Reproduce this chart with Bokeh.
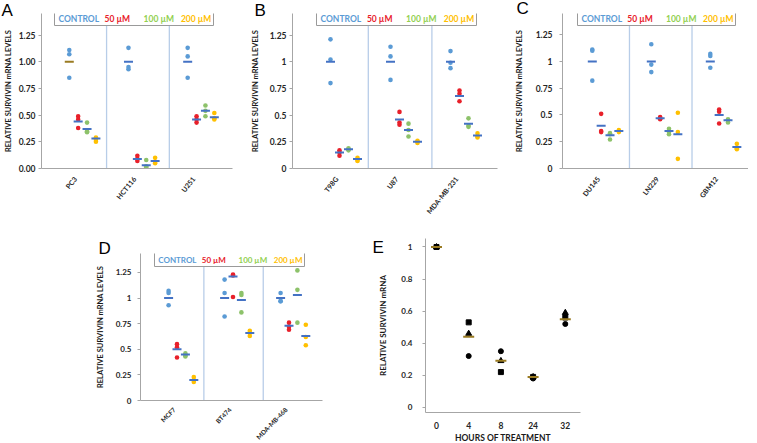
from bokeh.plotting import figure
from bokeh.layouts import row, column, Spacer
from bokeh.models import FixedTicker, NumeralTickFormatter
from bokeh.core.properties import value
from bokeh.embed import file_html
from bokeh.resources import INLINE

# ---------------- data ----------------
TREATMENTS = ["CONTROL", "50 µM", "100 µM", "200 µM"]

A_CELLS = ["PC3", "HCT116", "U251"]
A_CONTROL = [[1.11, 1.07, 0.85], [1.13, 0.95, 0.93], [1.13, 1.05, 0.85]]
A_50 = [[0.49, 0.46, 0.38], [0.12, 0.09, 0.07], [0.49, 0.46, 0.43]]
A_100 = [[0.43, 0.35, 0.34], [0.08, 0.02, 0.01], [0.59, 0.54, 0.49]]
A_200 = [[0.29, 0.27, 0.25], [0.10, 0.06, 0.05], [0.52, 0.47, 0.46]]
A_MEAN = [[1.00, 0.44, 0.37, 0.28], [1.00, 0.09, 0.03, 0.07], [1.00, 0.46, 0.54, 0.48]]

B_CELLS = ["T98G", "U87", "MDA-MB-231"]
B_CONTROL = [[1.21, 1.02, 0.80], [1.14, 1.05, 0.83], [1.10, 0.99, 0.94]]
B_50 = [[0.17, 0.15, 0.12], [0.53, 0.43, 0.41], [0.73, 0.70, 0.63]]
B_100 = [[0.19, 0.18, 0.17], [0.42, 0.36, 0.30], [0.47, 0.40, 0.39]]
B_200 = [[0.10, 0.08, 0.07], [0.26, 0.25, 0.24], [0.33, 0.30, 0.29]]
B_MEAN = [[1.00, 0.15, 0.18, 0.09], [1.00, 0.46, 0.36, 0.25], [1.00, 0.68, 0.42, 0.31]]

C_CELLS = ["DU145", "LN229", "GBM12"]
C_CONTROL = [[1.11, 1.10, 0.82], [1.16, 0.97, 0.90], [1.07, 1.05, 0.94]]
C_50 = [[0.51, 0.35, 0.34], [0.48, 0.47, 0.46], [0.55, 0.53, 0.42]]
C_100 = [[0.33, 0.32, 0.27], [0.37, 0.34, 0.32], [0.46, 0.45, 0.43]]
C_200 = [[0.36, 0.35, 0.34], [0.52, 0.34, 0.09], [0.23, 0.19, 0.18]]
C_MEAN = [[1.00, 0.40, 0.31, 0.35], [1.00, 0.47, 0.35, 0.32], [1.00, 0.50, 0.45, 0.20]]

D_CELLS = ["MCF7", "BT474", "MDA-MB-468"]
D_CONTROL = [[1.07, 1.05, 0.93], [1.18, 1.05, 0.82], [1.05, 0.97, 0.97]]
D_50 = [[0.55, 0.52, 0.42], [1.23, 1.22, 1.01], [0.76, 0.72, 0.69]]
D_100 = [[0.46, 0.44, 0.43], [1.05, 1.03, 0.86], [1.27, 1.08, 0.76]]
D_200 = [[0.23, 0.20, 0.18], [0.68, 0.66, 0.63], [0.74, 0.62, 0.54]]
D_MEAN = [[1.00, 0.50, 0.45, 0.20], [1.00, 1.21, 0.98, 0.66], [1.00, 0.73, 1.03, 0.63]]

E_HOURS = ["0", "4", "8", "24", "32"]
E_CIRCLE = [1.00, 0.32, 0.35, 0.18, 0.52]
E_SQUARE = [1.00, 0.53, 0.22, 0.19, 0.56]
E_TRIANGLE = [1.00, 0.46, 0.29, 0.19, 0.59]
E_MEAN = [1.00, 0.44, 0.29, 0.19, 0.55]

Y_TICKS = [0, 0.25, 0.5, 0.75, 1.0, 1.25]
E_Y_TICKS = [0, 0.2, 0.4, 0.6, 0.8, 1.0]

# ---------------- styles ----------------
DOT_COLORS = ["#5B9BD5", "#E8202A", "#8DC26A", "#FFC000"]
LEGEND_COLORS = ["#5B9BD5", "#E8202A", "#92D050", "#FFC000"]
MEAN_BLUE = "#4472C4"
MEAN_GOLD = "#9A7B22"
AXIS_GREY = "#A6A6A6"
DIVIDER = "#B8CDE8"
FONT = "Lato"
OFFSETS = [-0.1, 0.05, 0.2, 0.35]
YTITLE = "RELATIVE SURVIVIN mRNA LEVELS"
LETTER_FS = 17
LETTER_DESC = 3.6

# geometry in page pixels: fig=(left, top, width, height), frame=(left, right, top, bottom)
# letter=(x, baseline y)
GEO = {
    "A": dict(fig=(8, 0, 242, 223), frame=(44, 235, 13, 168), tick0=77.7, step=59.2,
              legend=(57, 216, 12, 25), letter=(4, 16), ytop=1.452, fmt="0.00",
              lab_so=3, title_so=3, tick_fs=8.5, leg_fs=8.5, cat_fs=7, cat_so=3, angle=0.89),
    "B": dict(fig=(250, 0, 250, 223), frame=(293, 498, 13, 168), tick0=337, step=60,
              legend=(317, 477, 12, 25), letter=(255, 16), ytop=1.452, fmt="0.[00]",
              lab_so=3, title_so=7, tick_fs=8.5, leg_fs=8.5, cat_fs=7, cat_so=3, angle=0.89),
    "C": dict(fig=(500, 0, 249, 223), frame=(563, 749, 13, 168), tick0=598.7, step=59,
              legend=(578, 736, 12, 25), letter=(517, 14), ytop=1.447, fmt="0.[00]",
              lab_so=7, title_so=9, tick_fs=8.5, leg_fs=8.5, cat_fs=7, cat_so=3, angle=0.89),
    "D": dict(fig=(100, 223, 240, 218), frame=(148, 330, 253, 400), tick0=181.7, step=56,
              legend=(162, 312, 252, 266), letter=(106, 254), ytop=1.435, fmt="0.[00]",
              lab_so=6, title_so=8, tick_fs=8, leg_fs=8, cat_fs=6.4, cat_so=2, angle=0.8),
}
E_FIG = (370, 223, 230, 218)
E_FRAME = (433, 588, 238, 412)
E_LETTER = (380, 253)


def make_fig(g_fig, g_frame, xr, yr):
    gx, gy, gw, gh = g_fig
    fl, fr, ft, fb = g_frame
    p = figure(frame_width=fr - fl, frame_height=fb - ft, x_range=xr, y_range=yr,
               output_backend="svg", toolbar_location=None,
               min_border_left=fl - gx, min_border_right=gx + gw - fr,
               min_border_top=ft - gy, min_border_bottom=gy + gh - fb)
    return p


def set_letter(p, letter, lx, lby, fl, ft):
    p.title.text = letter
    p.title.align = "left"
    p.title.vertical_align = "bottom"
    p.title.offset = lx - fl
    p.title.standoff = -2 * (lby + LETTER_DESC - ft)
    p.title.text_font = "Liberation Sans"
    p.title.text_font_size = f"{LETTER_FS}px"
    p.title.text_font_style = "normal"
    p.title.text_color = "black"


def style_axes(p, tick_fs, lab_so):
    p.outline_line_color = None
    p.grid.visible = False
    p.axis.axis_line_color = AXIS_GREY
    p.axis.major_label_text_font = FONT
    p.axis.major_label_text_font_style = "bold"
    p.axis.major_label_text_color = "#262626"
    p.axis.minor_tick_line_color = None
    p.xaxis.major_tick_line_color = None
    p.yaxis.major_tick_line_color = AXIS_GREY
    p.yaxis.major_tick_out = 3
    p.yaxis.major_tick_in = 0
    p.yaxis.major_label_text_font_size = f"{tick_fs}px"
    p.yaxis.major_label_standoff = lab_so
    p.axis.axis_label_text_font = FONT
    p.axis.axis_label_text_font_style = "bold"
    p.axis.axis_label_text_color = "#1A1A1A"


def dot_panel(key, cells, groups, means, mean_override=None):
    g = GEO[key]
    fl, fr, ft, fb = g["frame"]
    t0, st = g["tick0"], g["step"]
    ytop = g["ytop"]
    yu = (fb - ft) / ytop

    def px2x(px):
        return (px - t0) / st

    def py2y(py):
        return (fb - py) / yu

    p = make_fig(g["fig"], g["frame"], (px2x(fl), px2x(fr)), (0, ytop))
    style_axes(p, g["tick_fs"], g["lab_so"])

    # dividers between cell lines
    n = len(cells)
    dx = [0.53 + 1.06 * i for i in range(n - 1)]
    p.segment(x0=dx, y0=[0] * len(dx), x1=dx, y1=[ytop] * len(dx),
              line_color=DIVIDER, line_width=1.3)

    # replicate dots
    xs, ys, cs = [], [], []
    for j, grp in enumerate(groups):
        for i, vals in enumerate(grp):
            for v in vals:
                xs.append(i + OFFSETS[j])
                ys.append(v)
                cs.append(DOT_COLORS[j])
    p.scatter(x=xs, y=ys, marker="circle", size=4.6, fill_color=cs, line_color=cs, line_width=0)

    # means
    mx, my, mc = [], [], []
    for i, row_m in enumerate(means):
        for j, v in enumerate(row_m):
            mx.append(i + OFFSETS[j])
            my.append(v)
            col = MEAN_BLUE
            if mean_override and (i, j) in mean_override:
                col = mean_override[(i, j)]
            mc.append(col)
    p.scatter(x=mx, y=my, marker="dash", size=9, line_color=mc, line_width=2)

    # legend box
    lx0, lx1, ly0, ly1 = g["legend"]
    p.quad(left=[px2x(lx0)], right=[px2x(lx1)], top=[py2y(ly0)], bottom=[py2y(ly1)],
           fill_color="white", line_color="#9A9A9A", line_width=1)
    w = lx1 - lx0
    rel = [0.025, 0.315, 0.56, 0.795]
    p.text(x=[px2x(lx0 + w * r) for r in rel], y=[py2y((ly0 + ly1) / 2)] * 4, text=TREATMENTS,
           text_color=LEGEND_COLORS, text_font=value(FONT), text_font_style="bold",
           text_font_size=value(f"{g['leg_fs']}px"), text_baseline="middle", text_align="left")

    # axes
    p.xaxis.ticker = FixedTicker(ticks=list(range(n)))
    p.xaxis.major_label_overrides = {i: c for i, c in enumerate(cells)}
    p.xaxis.major_label_orientation = g["angle"]
    p.xaxis.major_label_text_font_size = f"{g['cat_fs']}px"
    p.xaxis.major_label_standoff = g["cat_so"]
    p.yaxis.ticker = FixedTicker(ticks=Y_TICKS)
    p.yaxis.formatter = NumeralTickFormatter(format=g["fmt"])
    p.yaxis.axis_label = YTITLE
    p.yaxis.axis_label_text_font_size = "7.5px"
    p.yaxis.axis_label_standoff = g["title_so"]

    lx, lby = g["letter"]
    set_letter(p, key, lx, lby, fl, ft)
    return p


pa = dot_panel("A", A_CELLS, [A_CONTROL, A_50, A_100, A_200], A_MEAN, {(0, 0): MEAN_GOLD})
pb = dot_panel("B", B_CELLS, [B_CONTROL, B_50, B_100, B_200], B_MEAN)
pc = dot_panel("C", C_CELLS, [C_CONTROL, C_50, C_100, C_200], C_MEAN)
pd = dot_panel("D", D_CELLS, [D_CONTROL, D_50, D_100, D_200], D_MEAN)

# ---------------- panel E ----------------
fl, fr, ft, fb = E_FRAME
t0, st = 444, 32.2
pe = make_fig(E_FIG, E_FRAME, ((fl - t0) / st, (fr - t0) / st), (-0.032, 1.053))
style_axes(pe, 8, 10)
idx = list(range(len(E_HOURS)))
pe.scatter(x=idx, y=E_CIRCLE, marker="circle", size=5, color="black")
pe.scatter(x=idx, y=E_SQUARE, marker="square", size=5, color="black")
pe.scatter(x=idx, y=E_TRIANGLE, marker="triangle", size=6, color="black")
pe.scatter(x=idx, y=E_MEAN, marker="dash", size=11, line_color=MEAN_GOLD, line_width=2)
pe.xaxis.ticker = FixedTicker(ticks=idx)
pe.xaxis.major_label_overrides = {i: h for i, h in enumerate(E_HOURS)}
pe.xaxis.major_label_text_font_size = "8.5px"
pe.xaxis.major_label_standoff = 3
pe.yaxis.ticker = FixedTicker(ticks=E_Y_TICKS)
pe.yaxis.formatter = NumeralTickFormatter(format="0.[0]")
pe.yaxis.axis_label = "RELATIVE SURVIVIN mRNA"
pe.yaxis.axis_label_text_font_size = "8px"
pe.yaxis.axis_label_standoff = 10
pe.xaxis.axis_label = "HOURS OF TREATMENT"
pe.xaxis.axis_label_text_font_size = "8.5px"
pe.xaxis.axis_label_standoff = 1
set_letter(pe, "E", E_LETTER[0], E_LETTER[1], fl, ft)

layout = column(row(pa, pb, pc),
                row(Spacer(width=92, height=1), column(pd), Spacer(width=30, height=1), column(pe)))

open("out.html", "w").write(file_html(layout, INLINE))
